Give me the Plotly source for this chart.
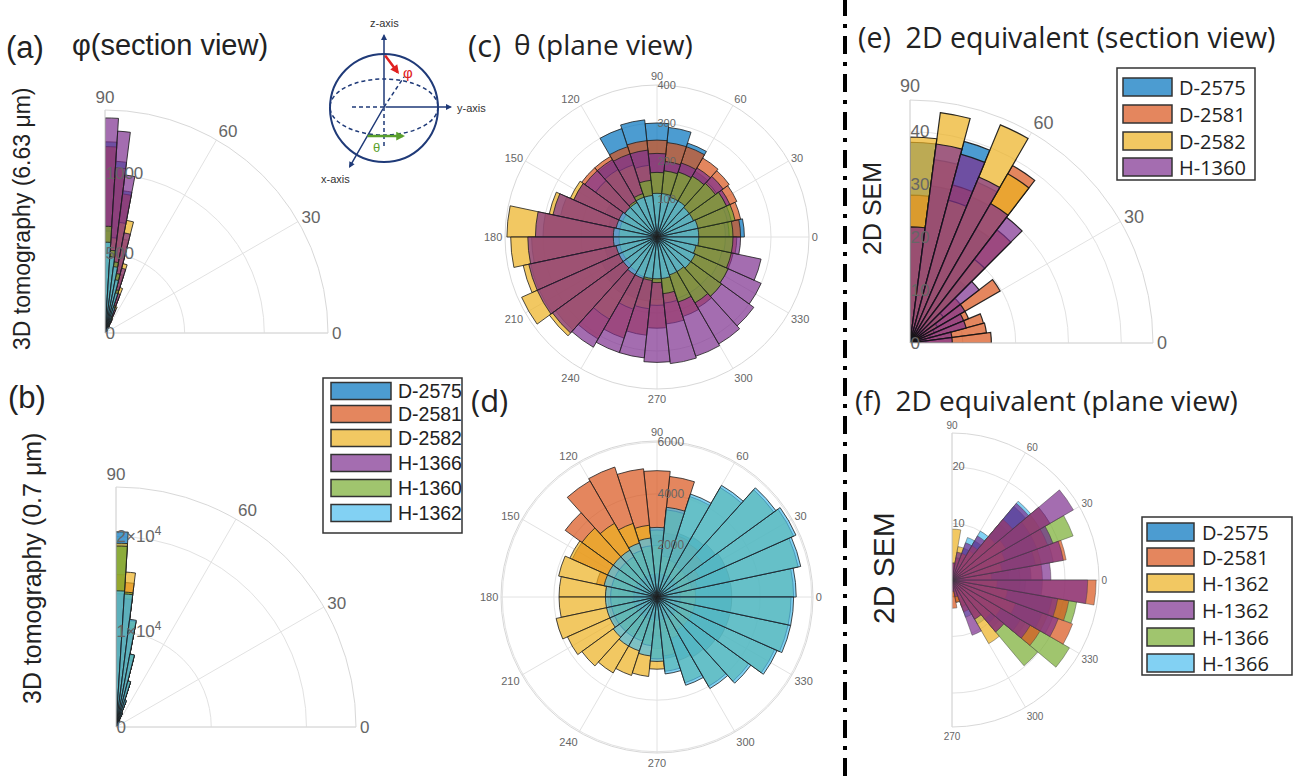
import plotly.graph_objects as go

W, H = 1293, 776
def fx(x): return x / W
def fy(y): return 1 - y / H

# ---------------- data ----------------
NAMES_ABCD = ["D-2575", "D-2581", "D-2582", "H-1366", "H-1360", "H-1362"]
NAMES_E = ["D-2575", "D-2581", "D-2582", "H-1360"]
NAMES_F = ["D-2575", "D-2581", "H-1362", "H-1362", "H-1366", "H-1366"]

# panel (a) / (b): phi bins near 90 deg
THETA_AB = [88.2, 84.6, 81.0, 77.4, 73.8, 70.2, 66.6, 63.0, 59.4, 55.8, 52.2, 48.6]
A_D2575 = [1200, 1080, 900, 560, 380, 240, 140, 80, 40, 20, 10, 5]
A_D2581 = [1170, 1040, 880, 600, 380, 230, 140, 80, 45, 20, 10, 5]
A_D2582 = [640, 600, 700, 720, 450, 300, 180, 100, 50, 25, 10, 5]
A_H1366 = [1350, 1270, 1000, 640, 420, 260, 160, 90, 50, 25, 10, 5]
A_H1360 = [670, 520, 450, 380, 280, 180, 110, 60, 30, 15, 8, 4]
A_H1362 = [570, 480, 420, 340, 260, 170, 100, 55, 28, 14, 6, 3]

B_D2575 = [20500, 13800, 11000, 7600, 4800, 2800, 1500, 800, 400, 200, 100, 50]
B_D2581 = [16000, 15200, 10800, 7400, 4700, 2700, 1500, 800, 400, 200, 100, 50]
B_D2582 = [19300, 16300, 11200, 7700, 4900, 2900, 1600, 850, 420, 210, 100, 50]
B_H1366 = [14000, 13500, 10500, 7200, 4500, 2600, 1400, 750, 380, 190, 90, 45]
B_H1360 = [19000, 14200, 11300, 7800, 5000, 2900, 1600, 850, 420, 210, 100, 50]
B_H1362 = [14300, 14000, 11400, 7800, 5000, 3000, 1600, 850, 420, 210, 100, 50]

# panel (c) / (d): theta bins, 12 deg
THETA_CD = [6, 18, 30, 42, 54, 66, 78, 90, 102, 114, 126, 138, 150, 162, 174,
            186, 198, 210, 222, 234, 246, 258, 270, 282, 294, 306, 318, 330, 342, 354]
C_D2575 = [230, 120, 120, 130, 200, 260, 290, 300, 310, 300, 230, 200, 150, 130, 120,
           115, 140, 160, 170, 175, 170, 170, 165, 150, 140, 120, 110, 105, 105, 120]
C_D2581 = [220, 225, 230, 235, 240, 250, 250, 255, 255, 250, 245, 245, 240, 260, 300,
           330, 340, 340, 330, 310, 280, 260, 240, 230, 220, 215, 210, 205, 205, 210]
C_D2582 = [180, 190, 200, 195, 185, 180, 175, 170, 190, 200, 205, 200, 250, 290, 395,
           385, 360, 390, 350, 250, 200, 190, 180, 175, 170, 170, 170, 175, 175, 180]
C_H1366 = [190, 200, 210, 215, 210, 205, 200, 220, 230, 230, 235, 235, 240, 280, 320,
           340, 345, 345, 340, 335, 320, 320, 330, 335, 330, 325, 315, 300, 280, 220]
C_H1360 = [200, 210, 200, 190, 185, 180, 175, 170, 150, 120, 110, 105, 100, 100, 100,
           100, 100, 100, 100, 105, 110, 115, 120, 150, 180, 200, 210, 205, 200, 200]
C_H1362 = [110, 110, 105, 105, 110, 110, 115, 115, 110, 110, 105, 105, 110, 110, 115,
           115, 110, 110, 110, 115, 115, 110, 110, 110, 105, 105, 110, 110, 105, 110]

D_D2575 = [2900, 2900, 2900, 2800, 2700, 2600, 2500, 2400, 1800, 1600, 1500, 1500, 1500, 1500, 1500,
           1500, 1500, 1500, 1500, 1500, 1600, 1700, 2000, 2400, 2600, 2700, 2800, 2900, 2900, 2900]
D_D2581 = [1500, 1600, 1800, 2200, 2400, 2500, 4700, 4900, 5000, 5300, 5200, 4400, 3600, 2400, 2000,
           1900, 1900, 1900, 1800, 1700, 1600, 1500, 1500, 1400, 1400, 1400, 1400, 1400, 1400, 1500]
D_D2582 = [1500, 1400, 1400, 1400, 1400, 1500, 1600, 2000, 2800, 3000, 3300, 3600, 3700, 3900, 3800,
           3800, 4000, 3800, 3600, 3400, 3200, 3100, 2800, 2300, 1700, 1500, 1500, 1500, 1500, 1500]
D_H1366 = [900, 900, 900, 900, 900, 900, 900, 900, 900, 900, 900, 900, 900, 900, 900,
           900, 900, 900, 900, 900, 900, 900, 900, 900, 900, 900, 900, 900, 900, 900]
D_H1360 = [5300, 5600, 5800, 5600, 4900, 4100, 3400, 2600, 2000, 1900, 1800, 1800, 1800, 1800, 1800,
           1800, 1800, 1800, 1800, 1800, 1800, 1900, 2400, 2900, 3500, 4000, 4400, 5000, 5200, 5200]
D_H1362 = [5400, 5700, 5900, 5700, 5000, 4200, 3500, 2700, 2300, 2200, 2100, 2100, 2100, 2100, 2000,
           2000, 2000, 2000, 2100, 2200, 2200, 2300, 2500, 3000, 3600, 4100, 4500, 5100, 5300, 5300]

# panel (e): 7.5 deg bins
THETA_E = [86.25, 78.75, 71.25, 63.75, 56.25, 48.75, 41.25, 33.75, 26.25, 18.75, 11.25, 3.75]
E_D2575 = [38, 30, 39.5, 30, 25, 15, 8, 6, 5, 4, 3, 3]
E_D2581 = [28, 35, 31, 33, 38.8, 27, 12, 19.7, 12, 14.4, 14.6, 15.4]
E_D2582 = [39, 44, 28, 44.7, 37, 20, 8, 6, 5, 4, 3, 3]
E_H1360 = [22, 38, 37, 34, 30.5, 30, 16.5, 12, 11, 11, 8, 8]

# panel (f): 10 deg bins, -90..90
THETA_F = [-85, -75, -65, -55, -45, -35, -25, -15, -5, 5, 15, 25, 35, 45, 55, 65, 75, 85]
F_D2575 = [2, 3, 5, 7, 10, 14, 17, 18, 16, 14, 15, 16, 16, 17, 8, 6, 4, 3]
F_D2581 = [5, 4, 6, 8, 12, 18, 22.7, 21, 25.5, 16, 20.5, 18, 20, 14, 7, 5, 4, 3]
F_H1362a = [3, 4, 5, 13, 9, 10, 12, 10, 8, 7, 9, 10, 11, 10, 6, 5, 6, 9]
F_H1362b = [2, 3, 10.4, 8, 12, 16, 20, 19, 24, 17.5, 20, 19, 24.8, 17.7, 9, 7, 5, 3]
F_H1366a = [1, 2, 4, 6, 19.8, 24, 18, 22.4, 12, 10, 16, 22.8, 18, 13, 6, 4, 3, 2]
F_H1366b = [2, 4, 7, 9, 11, 15, 19, 18, 13, 12, 18.2, 19, 20, 18.2, 10, 8, 5, 3]

# ---------------- styles ----------------
C_BLUE = "rgba(0,114,189,0.7)"
C_ORANGE = "rgba(217,83,25,0.7)"
C_YELLOW = "rgba(237,177,32,0.7)"
C_PURPLE = "rgba(126,47,142,0.7)"
C_GREEN = "rgba(119,172,48,0.7)"
C_LBLUE = "rgba(77,190,238,0.7)"
COLORS_ABCD = [C_BLUE, C_ORANGE, C_YELLOW, C_PURPLE, C_GREEN, C_LBLUE]
COLORS_E = [C_BLUE, C_ORANGE, C_YELLOW, C_PURPLE]
COLORS_F = [C_BLUE, C_ORANGE, C_YELLOW, C_PURPLE, C_GREEN, C_LBLUE]

FONT = "Liberation Sans, Arial, sans-serif"
FONT2 = "Open Sans, Liberation Sans, sans-serif"
GRID = "#e2e2e2"

fig = go.Figure()

def add_series(subplot, theta, width, names, colors, series, lc, lw, order=None):
    idx = order if order is not None else range(len(names))
    for i in idx:
        fig.add_trace(go.Barpolar(
            r=series[i], theta=theta, width=width, name=names[i], subplot=subplot,
            marker=dict(color=colors[i], line=dict(color=lc, width=lw)),
            showlegend=False, hoverinfo="skip"))

add_series("polar", THETA_AB, 3.6, NAMES_ABCD, COLORS_ABCD,
           [A_D2575, A_D2581, A_D2582, A_H1366, A_H1360, A_H1362], "rgba(30,30,30,0.85)", 1)
add_series("polar2", THETA_AB, 3.6, NAMES_ABCD, COLORS_ABCD,
           [B_D2575, B_D2581, B_D2582, B_H1366, B_H1360, B_H1362], "rgba(30,30,30,0.85)", 1)
add_series("polar3", THETA_CD, 12, NAMES_ABCD, COLORS_ABCD,
           [C_D2575, C_D2581, C_D2582, C_H1366, C_H1360, C_H1362], "rgba(30,30,30,0.8)", 1)
add_series("polar4", THETA_CD, 12, NAMES_ABCD, COLORS_ABCD,
           [D_D2575, D_D2581, D_D2582, D_H1366, D_H1360, D_H1362], "rgba(30,30,30,0.8)", 1)
add_series("polar5", THETA_E, 7.5, NAMES_E, COLORS_E,
           [E_D2575, E_D2581, E_D2582, E_H1360], "rgba(20,20,20,0.9)", 1.2)
add_series("polar6", THETA_F, 10, NAMES_F, COLORS_F,
           [F_D2575, F_D2581, F_H1362a, F_H1362b, F_H1366a, F_H1366b], "rgba(60,60,60,0.55)", 0.8,
           order=[5, 4, 0, 2, 1, 3])


def polar(x0, y0, x1, y1, sector, rrange, rvals, rtext, rsize, avals, atext, asize):
    return dict(
        domain=dict(x=[fx(x0), fx(x1)], y=[fy(y1), fy(y0)]),
        sector=sector, bgcolor="rgba(0,0,0,0)", barmode="overlay", bargap=0,
        radialaxis=dict(range=rrange, tickvals=rvals, ticktext=rtext, angle=90, tickangle=90,
                        showline=False, ticks="", gridcolor=GRID, gridwidth=1,
                        tickfont=dict(family=FONT, size=rsize, color="#666")),
        angularaxis=dict(tickvals=avals, ticktext=atext, direction="counterclockwise",
                         rotation=0, gridcolor=GRID, linecolor="#d8d8d8", linewidth=1,
                         ticks="", showline=True,
                         tickfont=dict(family=FONT, size=asize, color="#666")))

Q_VALS = [0, 30, 60, 90]
Q_TEXT = ["0", "30", "60", "90"]
FULL_VALS = [0, 30, 60, 90, 120, 150, 180, 210, 240, 270, 300, 330]
FULL_TEXT = [str(v) for v in FULL_VALS]
HALF_VALS = [-90, -60, -30, 0, 30, 60, 90]
HALF_TEXT = ["270", "300", "330", "0", "30", "60", "90"]

fig.update_layout(
    polar=polar(105, 110, 328, 333, [0, 90], [0, 1400], [0, 500, 1000], ["0", "500", "1000"], 17,
                Q_VALS, Q_TEXT, 17),
    polar2=polar(116, 487, 356, 727, [0, 90], [0, 25200], [0, 10000, 20000],
                 ["0", "1×10<sup>4</sup>", "2×10<sup>4</sup>"], 17, Q_VALS, Q_TEXT, 17),
    polar3=polar(505, 85, 809, 389, [0, 360], [0, 400], [100, 200, 300, 400],
                 ["100", "200", "300", "400"], 11, FULL_VALS, FULL_TEXT, 11),
    polar4=polar(501, 441, 813, 753, [0, 360], [0, 6050], [2000, 4000, 6000],
                 ["2000", "4000", "6000"], 12, FULL_VALS, FULL_TEXT, 11),
    polar5=polar(910, 100, 1153, 343, [0, 90], [0, 46], [0, 10, 20, 30, 40],
                 ["0", "10", "20", "30", "40"], 17, Q_VALS, Q_TEXT, 18),
    polar6=polar(952, 433, 1099, 727, [-90, 90], [0, 26], [10, 20], ["10", "20"], 11,
                 HALF_VALS, HALF_TEXT, 10),
)

shapes = []
annotations = []

def text(x, y, s, size, family=FONT, color="#222", xanchor="left", angle=0, yanchor="middle"):
    annotations.append(dict(x=fx(x), y=fy(y), xref="paper", yref="paper", text=s, showarrow=False,
                            xanchor=xanchor, yanchor=yanchor, textangle=angle,
                            font=dict(family=family, size=size, color=color)))

# panel titles
text(4, 47, "(a)", 31)
text(70, 45, "φ(section view)", 29)
text(6, 398, "(b)", 31)
text(466, 45, "(c)", 31, FONT2)
text(512, 44, "θ (plane view)", 28, FONT2)
text(469, 400, "(d)", 31, FONT2)
text(856, 37, "(e)  2D equivalent (section view)", 28.5, FONT2)
text(853, 400, "(f)  2D equivalent (plane view)", 28, FONT2)

# y labels
text(22, 219, "3D tomography (6.63 μm)", 23, angle=-90, xanchor="center")
text(32, 569, "3D tomography (0.7 μm)", 25, angle=-90, xanchor="center")
text(872, 209, "2D SEM", 25, angle=-90, xanchor="center")
text(883, 568, "2D SEM", 30, angle=-90, xanchor="center")

# dash-dot separator
shapes.append(dict(type="line", xref="paper", yref="paper", x0=fx(845), x1=fx(845), y0=0, y1=1,
                   line=dict(color="black", width=4, dash="18px,8px,4px,8px")))

def legend(box, sx0, sx1, sh, rows, names, colors, tx, size, family):
    shapes.append(dict(type="rect", xref="paper", yref="paper", x0=fx(box[0]), x1=fx(box[2]),
                       y0=fy(box[3]), y1=fy(box[1]), fillcolor="white",
                       line=dict(color="#333", width=1.5), layer="above"))
    for yc, n, c in zip(rows, names, colors):
        shapes.append(dict(type="rect", xref="paper", yref="paper", x0=fx(sx0), x1=fx(sx1),
                           y0=fy(yc + sh / 2), y1=fy(yc - sh / 2), fillcolor=c,
                           line=dict(color="#333", width=1.5), layer="above"))
        text(tx, yc, n, size, family)

legend((323, 378, 462, 533), 331, 391, 17, [391, 414, 438, 463, 488, 513],
       NAMES_ABCD, COLORS_ABCD, 396, 19.5, FONT)
legend((1117, 68, 1255, 180), 1123, 1172, 18, [87, 114, 141, 167],
       NAMES_E, COLORS_E, 1177, 20, FONT2)
legend((1142, 517, 1292, 675), 1147, 1194, 18, [532, 557, 583, 610, 637, 663],
       NAMES_F, COLORS_F, 1200, 20, FONT2)

# inset sphere diagram
NAVY = "#1f3a78"
shapes.append(dict(type="circle", xref="paper", yref="paper", x0=fx(330), x1=fx(438),
                   y0=fy(162), y1=fy(54), line=dict(color=NAVY, width=2)))
shapes.append(dict(type="circle", xref="paper", yref="paper", x0=fx(330), x1=fx(438),
                   y0=fy(135), y1=fy(79), line=dict(color=NAVY, width=1.5, dash="4px,3px")))
for (x0, y0, x1, y1) in [(384, 107, 352, 107), (384, 107, 384, 148), (384, 107, 404, 77)]:
    shapes.append(dict(type="line", xref="paper", yref="paper", x0=fx(x0), x1=fx(x1),
                       y0=fy(y0), y1=fy(y1), line=dict(color=NAVY, width=1.5, dash="4px,3px")))

def arrow(xt, yt, xh, yh, color, width, size=1.0):
    annotations.append(dict(x=fx(xh), y=fy(yh), xref="paper", yref="paper", ax=xt - xh, ay=yt - yh,
                            axref="pixel", ayref="pixel", text="", showarrow=True, arrowhead=2,
                            arrowsize=size, arrowwidth=width, arrowcolor=color))

arrow(384, 107, 384, 34, NAVY, 1.5, 0.8)
arrow(384, 107, 452, 107, NAVY, 1.5, 0.8)
arrow(384, 107, 349, 168, NAVY, 1.5, 0.8)
arrow(384, 54, 399, 74, "#e02020", 2.5, 0.7)
arrow(366, 136, 405, 136, "#5aa02c", 2.5, 0.7)
text(384, 23, "z-axis", 11, color="#333", xanchor="center")
text(455, 108, "y-axis", 11, color="#333")
text(335, 179, "x-axis", 11, color="#333", xanchor="center")
text(408, 72, "φ", 15, color="#e02020", xanchor="center")
text(376, 147, "θ", 13, color="#5aa02c", xanchor="center")

fig.update_layout(
    width=W, height=H, margin=dict(l=0, r=0, t=0, b=0), template="none",
    paper_bgcolor="white", plot_bgcolor="white", showlegend=False,
    shapes=shapes, annotations=annotations,
)

fig.write_html("out.html")
